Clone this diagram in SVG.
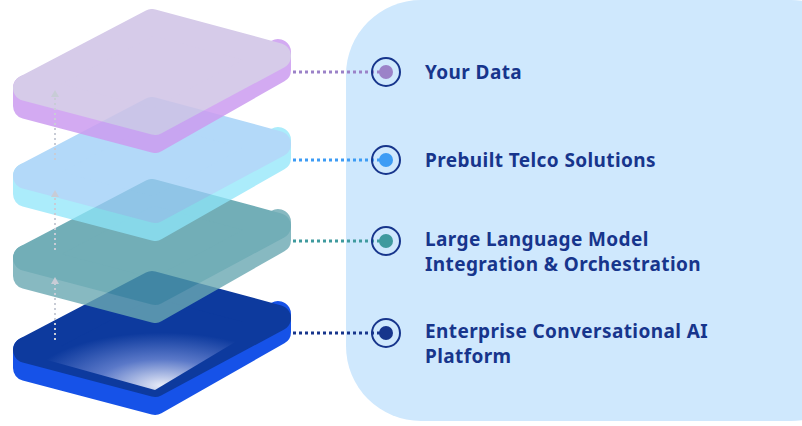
<svg xmlns="http://www.w3.org/2000/svg" width="802" height="426" viewBox="0 0 802 426">
<style>
.t{font-family:"Noto Sans","Liberation Sans",sans-serif;font-weight:700;font-size:19px;letter-spacing:0.4px;fill:#17358c}
.ring{fill:none;stroke:#17358c;stroke-width:2}
.c{fill:none;stroke-width:3;stroke-dasharray:3 3}
.side,.face{stroke-linejoin:round;stroke-width:26}
.up{stroke:#c8ccd6;stroke-width:2;stroke-dasharray:2 3}
</style>
<defs>
<radialGradient id="g4" cx="0.55" cy="0.95" r="0.6"><stop offset="0" stop-color="#e8ecf8"/><stop offset="0.5" stop-color="#5a78c8"/><stop offset="1" stop-color="#0d3a9e"/></radialGradient>
</defs>
<rect x="346" y="0" width="520" height="421" rx="75" fill="#cfe8fd"/>
<g id="layer4" transform="translate(0,262)">
<polygon class="side" points="26,88 155,122 278,52 278,70 155,140 26,106" fill="#1652e8" stroke="#1652e8"/>
<polygon class="face" points="152,22 278,56 155,122 26,88" fill="#0d3a9e" stroke="#0d3a9e"/>
<polygon points="152,40 262,64 155,128 40,96" fill="url(#g4)"/>
</g>
<g id="layer3" transform="translate(0,170)" opacity="0.8">
<polygon class="side" points="26,88 155,122 278,52 278,70 155,140 26,106" fill="#6aa8b2" stroke="#6aa8b2"/>
<polygon class="face" points="152,22 278,56 155,122 26,88" fill="#4f9aa6" stroke="#4f9aa6"/>
</g>
<g id="layer2" transform="translate(0,88)" opacity="0.75">
<polygon class="side" points="26,88 155,122 278,52 278,70 155,140 26,106" fill="#8fe6fa" stroke="#8fe6fa"/>
<polygon class="face" points="152,22 278,56 155,122 26,88" fill="#9acdf7" stroke="#9acdf7"/>
</g>
<g id="layer1" opacity="0.85">
<polygon class="side" points="26,88 155,122 278,52 278,70 155,140 26,106" fill="#cc9cf0" stroke="#cc9cf0"/>
<polygon class="face" points="152,22 278,56 155,122 26,88" fill="#cfc2e6" stroke="#cfc2e6"/>
</g>
<g id="connectors">
<line class="c" x1="293" y1="72" x2="384" y2="72" stroke="#9b82c8"/>
<line class="c" x1="293" y1="160" x2="384" y2="160" stroke="#3d9cf5"/>
<line class="c" x1="293" y1="241" x2="384" y2="241" stroke="#3f9a9e"/>
<line class="c" x1="293" y1="333" x2="384" y2="333" stroke="#17358c"/>
<line class="up" x1="55" y1="160" x2="55" y2="95"/><polygon points="51,97 55,90 59,97" fill="#c8ccd6"/>
<line class="up" x1="55" y1="250" x2="55" y2="195"/><polygon points="51,197 55,190 59,197" fill="#c8ccd6"/>
<line class="up" x1="55" y1="340" x2="55" y2="282"/><polygon points="51,284 55,277 59,284" fill="#c8ccd6"/>
</g>
<g id="item1"><circle class="ring" cx="386" cy="72" r="14"/><circle cx="386" cy="72" r="7" fill="#9b82c8"/><text class="t" x="425" y="79">Your Data</text></g>
<g id="item2"><circle class="ring" cx="386" cy="160" r="14"/><circle cx="386" cy="160" r="7" fill="#3d9cf5"/><text class="t" x="425" y="167">Prebuilt Telco Solutions</text></g>
<g id="item3"><circle class="ring" cx="386" cy="241" r="14"/><circle cx="386" cy="241" r="7" fill="#3f9a9e"/><text class="t" x="425" y="246">Large Language Model</text><text class="t" x="425" y="271">Integration &amp; Orchestration</text></g>
<g id="item4"><circle class="ring" cx="386" cy="333" r="14"/><circle cx="386" cy="333" r="7" fill="#17358c"/><text class="t" x="425" y="338">Enterprise Conversational  AI</text><text class="t" x="425" y="363">Platform</text></g>
</svg>
